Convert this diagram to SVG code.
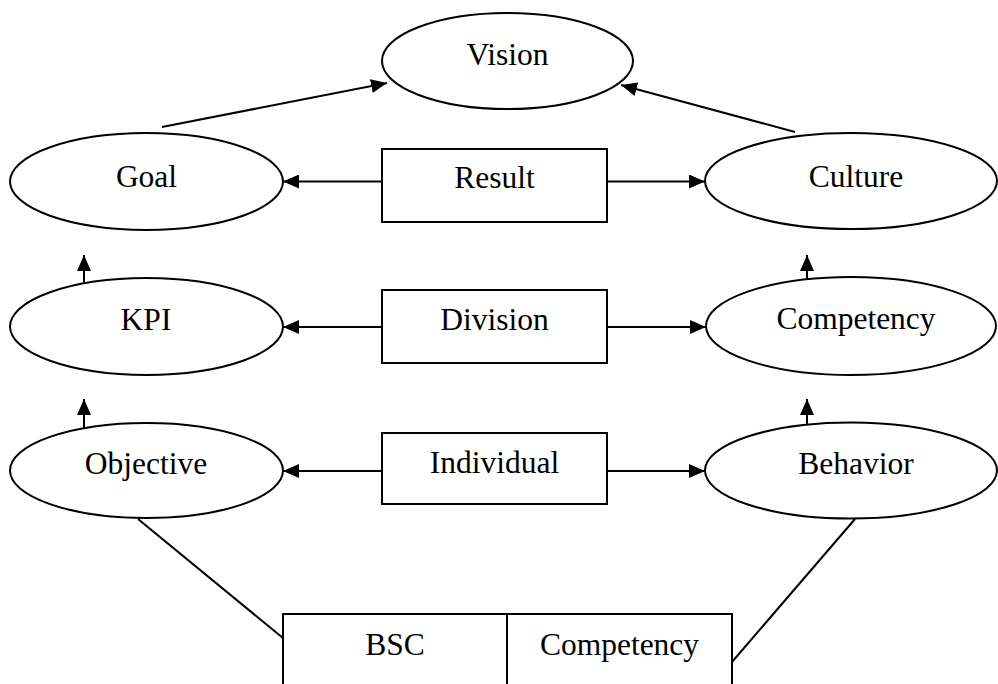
<svg xmlns="http://www.w3.org/2000/svg" width="998" height="684" viewBox="0 0 998 684">
<defs>
<marker id="ah" markerUnits="userSpaceOnUse" markerWidth="16" markerHeight="14" refX="16" refY="7" orient="auto">
<path d="M0,0 L16,7 L0,14 z" fill="#000"/>
</marker>
<style>
.n{fill:#fff;stroke:#000;stroke-width:2}
.t{font-family:"Liberation Serif","Times New Roman",serif;font-size:31.5px;fill:#000;text-anchor:middle}
.c{stroke:#000;stroke-width:2;fill:none}
.a{marker-end:url(#ah)}
</style>
</defs>
<rect width="998" height="684" fill="#fff"/>
<g id="connectors">
<line class="c a" x1="162" y1="127" x2="387" y2="83"/>
<line class="c a" x1="795" y1="132" x2="621" y2="85"/>
<line class="c a" x1="382" y1="181.5" x2="283" y2="181.5"/>
<line class="c a" x1="607" y1="181.5" x2="705" y2="181.5"/>
<line class="c a" x1="382" y1="327" x2="283" y2="327"/>
<line class="c a" x1="607" y1="327" x2="706" y2="327"/>
<line class="c a" x1="382" y1="471" x2="283" y2="471"/>
<line class="c a" x1="607" y1="471" x2="705" y2="471"/>
<line class="c a" x1="84" y1="284" x2="84" y2="255"/>
<line class="c a" x1="84" y1="429" x2="84" y2="399"/>
<line class="c a" x1="807" y1="280" x2="807" y2="255"/>
<line class="c a" x1="807" y1="426" x2="807" y2="399"/>
<line class="c" x1="138" y1="519" x2="283" y2="638"/>
<line class="c" x1="855" y1="519" x2="732" y2="662"/>
</g>
<g id="vision"><ellipse class="n" cx="507.5" cy="61" rx="125.5" ry="48"/><text class="t" x="507.5" y="65">Vision</text></g>
<g id="goal"><ellipse class="n" cx="146.5" cy="181.5" rx="136.5" ry="48.5"/><text class="t" x="146.5" y="187">Goal</text></g>
<g id="result"><rect class="n" x="382" y="149" width="225" height="73"/><text class="t" x="494.5" y="188">Result</text></g>
<g id="culture"><ellipse class="n" cx="851" cy="181" rx="146" ry="48"/><text class="t" x="856" y="187">Culture</text></g>
<g id="kpi"><ellipse class="n" cx="146.5" cy="326.5" rx="136.5" ry="48.5"/><text class="t" x="146" y="330">KPI</text></g>
<g id="division"><rect class="n" x="382" y="290" width="225" height="73"/><text class="t" x="494.5" y="330">Division</text></g>
<g id="competency"><ellipse class="n" cx="851" cy="326" rx="145" ry="49"/><text class="t" x="856" y="329">Competency</text></g>
<g id="objective"><ellipse class="n" cx="146.5" cy="470.5" rx="136.5" ry="47.5"/><text class="t" x="146" y="474">Objective</text></g>
<g id="individual"><rect class="n" x="382" y="433" width="225" height="71"/><text class="t" x="494.5" y="473">Individual</text></g>
<g id="behavior"><ellipse class="n" cx="851" cy="470.5" rx="146" ry="48"/><text class="t" x="856" y="474">Behavior</text></g>
<g id="bsc-competency">
<rect class="n" x="283" y="614" width="449" height="90"/>
<line class="c" x1="507" y1="614" x2="507" y2="684"/>
<text class="t" x="395" y="655">BSC</text>
<text class="t" x="619.5" y="655">Competency</text>
</g>
</svg>
